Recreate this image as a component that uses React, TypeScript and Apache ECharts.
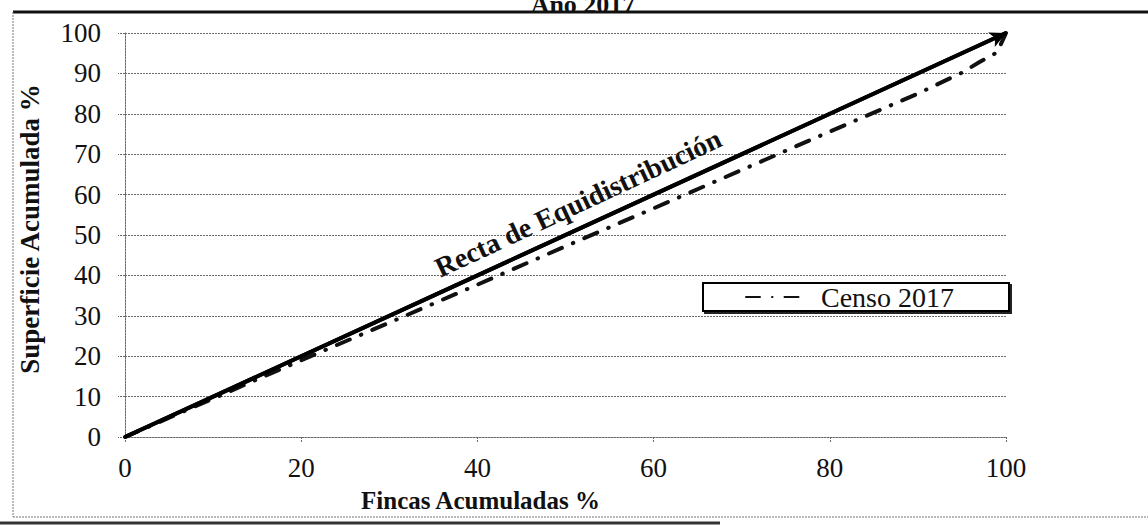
import React, { useEffect, useRef } from "react";
import * as echarts from "echarts";

const titleText = "Año 2017";
const xTitle = "Fincas Acumuladas %";
const yTitle = "Superficie Acumulada %";
const eqLabel = "Recta de Equidistribución";
const censoName = "Censo 2017";

const eqX = [0, 100];
const eqY = [0, 100];

const censoX = [0, 10, 20, 30, 40, 50, 60, 70, 80, 90, 95, 97, 99, 100];
const censoY = [0, 9.5, 19, 28.3, 37.7, 47.2, 56.6, 66.1, 75.6, 85, 90.2, 92.8, 95.2, 100];

const FONT = "'Liberation Serif', 'Times New Roman', serif";

export default function App() {
  const ref = useRef<HTMLDivElement>(null);
  useEffect(() => {
    if (!ref.current) return;
    const chart = echarts.init(ref.current, undefined, { renderer: "svg" });
    const eqData = eqX.map((x, i) => [x, eqY[i]]);
    const censoData = censoX.map((x, i) => [x, censoY[i]]);
    const gridLine = { color: "#6a6a6a", width: 1, type: [2, 1] as any };
    chart.setOption({
      animation: false,
      backgroundColor: "#fff",
      title: {
        text: titleText,
        left: 578,
        top: -14,
        textAlign: "center",
        textStyle: { fontFamily: FONT, fontSize: 26, fontWeight: "bold", color: "#111" },
      },
      grid: { left: 125, right: 142, top: 33, bottom: 90, containLabel: false },
      legend: {
        left: 703,
        top: 283,
        orient: "horizontal",
        data: [censoName],
        itemWidth: 58,
        itemHeight: 12,
        padding: [0, 55, 0, 42],
        borderColor: "#000",
        borderWidth: 2,
        backgroundColor: "#fff",
        shadowColor: "#222",
        shadowOffsetX: 2,
        shadowOffsetY: 2,
        shadowBlur: 0,
        itemStyle: { opacity: 0, borderWidth: 0 },
        textStyle: {
          fontFamily: FONT,
          fontSize: 28,
          color: "#111",
          lineHeight: 22,
          padding: [0, 0, 0, 12],
        },
      },
      xAxis: {
        type: "value",
        min: 0,
        max: 100,
        interval: 20,
        name: xTitle,
        nameLocation: "middle",
        nameGap: 51,
        nameTextStyle: {
          fontFamily: FONT,
          fontSize: 25,
          fontWeight: "bold",
          color: "#111",
          padding: [0, 170, 0, 0],
        },
        axisLine: { show: true, lineStyle: gridLine },
        axisTick: { show: true, length: 6, lineStyle: gridLine },
        splitLine: { show: false },
        axisLabel: { fontFamily: FONT, fontSize: 27, color: "#111", margin: 17 },
      },
      yAxis: {
        type: "value",
        min: 0,
        max: 100,
        interval: 10,
        name: yTitle,
        nameLocation: "middle",
        nameGap: 82,
        nameTextStyle: { fontFamily: FONT, fontSize: 27, fontWeight: "bold", color: "#111", padding: [0, 0, 0, 12] },
        axisLine: { show: true, lineStyle: gridLine },
        axisTick: { show: true, length: 7, lineStyle: gridLine },
        splitLine: { show: true, lineStyle: gridLine },
        axisLabel: { fontFamily: FONT, fontSize: 27, color: "#111", margin: 24 },
      },
      series: [
        {
          name: "Recta de Equidistribución",
          type: "line",
          data: eqData,
          showSymbol: false,
          symbol: "none",
          itemStyle: { color: "#000" },
          lineStyle: { color: "#000", width: 4 },
          z: 3,
          markLine: {
            silent: true,
            symbol: ["none", "arrow"],
            symbolSize: [12, 16],
            label: { show: false },
            lineStyle: { color: "#000", width: 4, type: "solid" },
            data: [
              [
                { coord: eqData[0] },
                { coord: eqData[eqData.length - 1] },
              ],
            ],
          },
        },
        {
          name: censoName,
          type: "line",
          data: censoData,
          showSymbol: false,
          symbol: "none",
          itemStyle: { color: "#111" },
          lineStyle: { color: "#111", width: 4, type: [14, 12, 0.5, 12], cap: "round" },
          z: 2,
        },
      ],
      graphic: [
        {
          type: "text",
          x: 578,
          y: 203,
          rotation: (25 * Math.PI) / 180,
          style: {
            text: eqLabel,
            fontFamily: FONT,
            fontSize: 28,
            fontWeight: "bold",
            fill: "#111",
            align: "center",
            verticalAlign: "middle",
          },
          z: 10,
        },
        {
          type: "line",
          shape: { x1: 13, y1: 12, x2: 1148, y2: 12 },
          style: { stroke: "#111", lineWidth: 3 },
        },
        {
          type: "line",
          shape: { x1: 13, y1: 12, x2: 13, y2: 517 },
          style: { stroke: "#777", lineWidth: 1, lineDash: [2, 1] },
        },
        {
          type: "line",
          shape: { x1: 13, y1: 517, x2: 1148, y2: 517 },
          style: { stroke: "#777", lineWidth: 1, lineDash: [2, 1] },
        },
        {
          type: "line",
          shape: { x1: 0, y1: 523, x2: 720, y2: 523 },
          style: { stroke: "#333", lineWidth: 3 },
        },
      ],
    });
    return () => chart.dispose();
  }, []);
  return <div ref={ref} style={{ width: 1148, height: 527, position: "absolute", left: 0, top: 0 }} />;
}
